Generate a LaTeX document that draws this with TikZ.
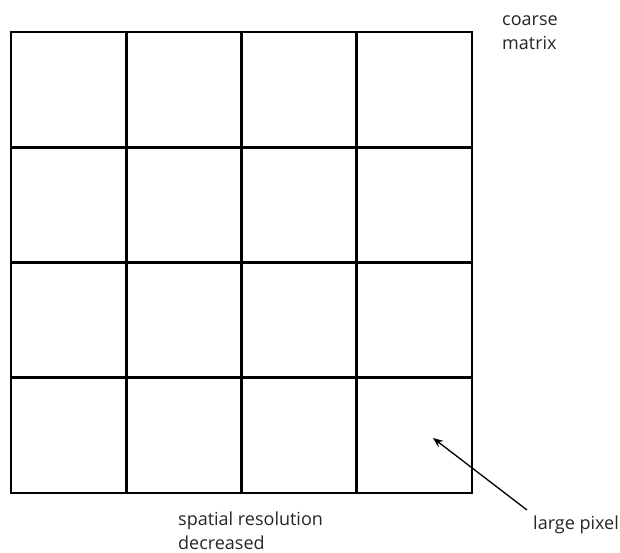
\documentclass[tikz,border=0pt]{standalone}
\usepackage{fontspec}
\setmainfont{Open Sans}
\usetikzlibrary{arrows.meta}
\begin{document}
\begin{tikzpicture}[x=1pt,y=-1pt,
  gridline/.style={line width=2.6pt, line cap=rect},
  lbl/.style={font=\fontsize{18}{24}\selectfont, align=left, inner sep=0pt, anchor=base west, text=black!85},
  pointer/.style={line width=1.3pt, -{Stealth[length=10pt,width=8pt]}}]
\useasboundingbox (0,0) rectangle (620,552);
\foreach \i in {0,...,4} {
  \draw[gridline] ({11+\i*115.25},32) -- ({11+\i*115.25},493);
  \draw[gridline] (11,{32+\i*115.25}) -- (472,{32+\i*115.25});
}
\node[lbl] (coarse) at (502,49) {coarse\\matrix};
\node[lbl] (spatial) at (178,549) {spatial resolution\\decreased};
\node[lbl] (large) at (533,529) {large pixel};
\coordinate (tip) at (433,438);
\coordinate (tail) at (527,510);
\draw[pointer] (tail) -- (tip);
\end{tikzpicture}
\end{document}
